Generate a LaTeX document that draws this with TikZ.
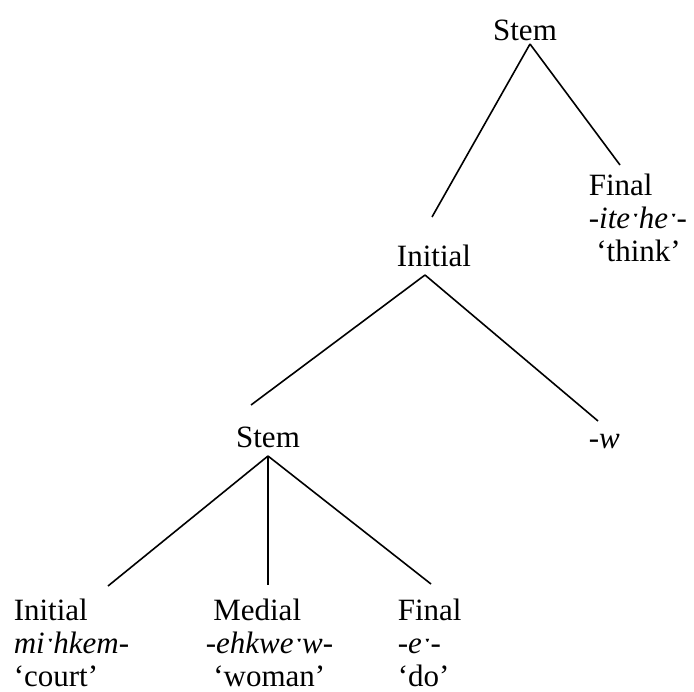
\documentclass[tikz,border=0pt]{standalone}
\usepackage{fontspec}
\setmainfont{Liberation Serif}

\begin{document}
\begin{tikzpicture}[x=1bp, y=-1bp, line width=1.6bp,
  lbl/.style={inner sep=0pt, font=\fontsize{31bp}{33bp}\selectfont},
  block/.style={lbl, align=left, anchor=north west}]
  \useasboundingbox (0,0) rectangle (694,692);

  % Labels
  \node[lbl, anchor=base] (stemA) at (525,41) {Stem};
  \node[block] (finA) at (588,173) {Final\\-\textit{iteˑheˑ}-\\\hspace*{7.5bp}‘think’};
  \node[lbl, anchor=base] (initB) at (434,266) {Initial};
  \node[lbl, anchor=base] (stemB) at (268,447) {Stem};
  \node[lbl, anchor=base west] (wB) at (588,448) {-\textit{w}};
  \node[block] (initC) at (13,598) {Initial\\\textit{miˑhkem}-\\‘court’};
  \node[block] (medC) at (205,598) {\hspace*{7.5bp}Medial\\-\textit{ehkweˑw}-\\\hspace*{7.5bp}‘woman’};
  \node[block] (finC) at (397,598) {Final\\-\textit{eˑ}-\\‘do’};

  % Branch points
  \coordinate (stemA-foot) at (530,44);
  \coordinate (initB-head) at (432,217);
  \coordinate (finA-head) at (620,165);
  \coordinate (initB-foot) at (425,275);
  \coordinate (stemB-head) at (251,405);
  \coordinate (wB-head) at (598,421);
  \coordinate (stemB-foot) at (268,456);
  \coordinate (initC-head) at (108,586);
  \coordinate (medC-head) at (268,585);
  \coordinate (finC-head) at (431,584);

  % Branches
  \draw (stemA-foot) -- (initB-head);
  \draw (stemA-foot) -- (finA-head);
  \draw (initB-foot) -- (stemB-head);
  \draw (initB-foot) -- (wB-head);
  \draw (stemB-foot) -- (initC-head);
  \draw (stemB-foot) -- (medC-head);
  \draw (stemB-foot) -- (finC-head);
\end{tikzpicture}
\end{document}
